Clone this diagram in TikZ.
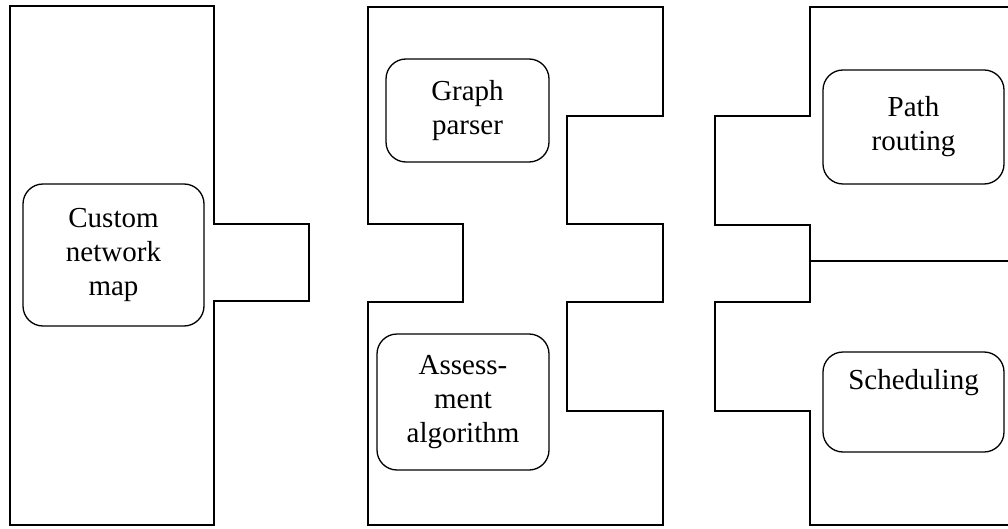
\documentclass[tikz,border=0pt]{standalone}
\usepackage{fontspec}
\setmainfont{Liberation Serif}
\begin{document}
\begin{tikzpicture}[x=1pt,y=-1pt,
  outline/.style={draw,line width=1.3pt,line join=miter},
  module/.style={draw,line width=1.3pt,rounded corners=20pt,align=center,
    inner sep=0pt,font=\fontsize{29}{34}\selectfont}]
\useasboundingbox (0,0) rectangle (1008,529);
% left piece
\draw[outline] (10,6) -- (214,6) -- (214,224) -- (309,224) -- (309,301)
  -- (214,301) -- (214,525) -- (10,525) -- cycle;
% middle piece
\draw[outline] (368,7) -- (663,7) -- (663,116) -- (567,116) -- (567,224)
  -- (663,224) -- (663,302) -- (567,302) -- (567,411) -- (663,411)
  -- (663,525) -- (368,525) -- (368,302) -- (463,302) -- (463,224)
  -- (368,224) -- cycle;
% right piece
\draw[outline] (1010,7) -- (810,7) -- (810,116) -- (715,116) -- (715,225)
  -- (810,225) -- (810,302) -- (715,302) -- (715,411) -- (810,411)
  -- (810,525) -- (1010,525);
\draw[outline] (810,261) -- (1010,261);
% modules
\node[module,minimum width=181pt,minimum height=142pt] (cnm) at (113.5,255)
  {Custom\\network\\map};
\node[module,minimum width=163pt,minimum height=103pt] (gp) at (467.5,110.5)
  {Graph\\parser};
\node[module,minimum width=172pt,minimum height=136pt] (aa) at (463,402)
  {Assess-\\ment\\algorithm};
\node[module,minimum width=181pt,minimum height=114pt] (pr) at (913.5,127)
  {Path\\routing};
\node[module,minimum width=181pt,minimum height=100pt] (sc) at (913.5,402)
  {Scheduling\\\strut};
\end{tikzpicture}
\end{document}
